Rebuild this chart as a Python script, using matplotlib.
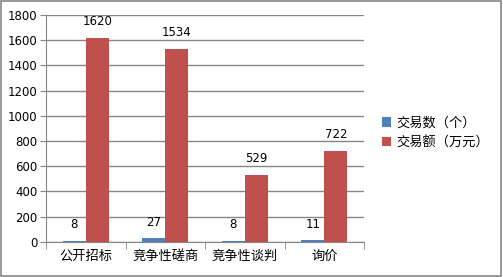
import numpy as np
import matplotlib.pyplot as plt
from matplotlib.patches import Rectangle

plt.rcParams['font.family'] = ['Noto Sans CJK SC', 'DejaVu Sans']

categories = ["公开招标", "竞争性磋商", "竞争性谈判", "询价"]
counts = [8, 27, 8, 11]
amounts = [1620, 1534, 529, 722]
series_names = ["交易数（个）", "交易额（万元）"]

blue = "#4F81BD"
red = "#C0504D"
grid = "#868686"

fig = plt.figure(figsize=(5.03, 2.77), dpi=100)
fig.patches.append(Rectangle((0.002, 0.004), 0.994, 0.992, transform=fig.transFigure,
                             fill=False, edgecolor="#868686", linewidth=1.2))
ax = fig.add_axes([46 / 503, 1 - 241.7 / 277, 318 / 503, 226.7 / 277])

x = np.arange(len(categories))
w = 0.29
b1 = ax.bar(x - w / 2, counts, w, color=blue, label=series_names[0], zorder=3)
b2 = ax.bar(x + w / 2, amounts, w, color=red, label=series_names[1], zorder=3)

for rect, v in zip(list(b1) + list(b2), counts + amounts):
    ax.annotate(str(v), (rect.get_x() + rect.get_width() / 2, rect.get_height()),
                xytext=(0, 7), textcoords="offset points", ha="center", va="bottom",
                fontsize=8.5, family="DejaVu Sans")

ax.set_xlim(-0.5, 3.5)
ax.set_ylim(0, 1800)
ax.set_yticks(range(0, 1801, 200))
ax.yaxis.grid(True, color=grid, linewidth=1, zorder=0)
ax.set_axisbelow(True)

ax.set_xticks(x)
ax.set_xticklabels(categories, fontsize=9.5)
ax.set_xticks(np.arange(-0.5, 4, 1), minor=True)
ax.tick_params(axis="x", which="major", length=0, pad=6)
ax.tick_params(axis="x", which="minor", length=5, color=grid, direction="out")
ax.tick_params(axis="y", length=4, color=grid, labelsize=8.5, pad=2)
for lab in ax.get_yticklabels():
    lab.set_family("DejaVu Sans")

for s in ["top", "right"]:
    ax.spines[s].set_visible(False)
for s in ["left", "bottom"]:
    ax.spines[s].set_color(grid)

ax.legend(loc="center left", bbox_to_anchor=(1.02, 0.48), frameon=False,
          fontsize=9.5, handlelength=0.7, handleheight=0.7, handletextpad=0.4,
          labelspacing=0.5)

fig.savefig("out.png", dpi=100)
